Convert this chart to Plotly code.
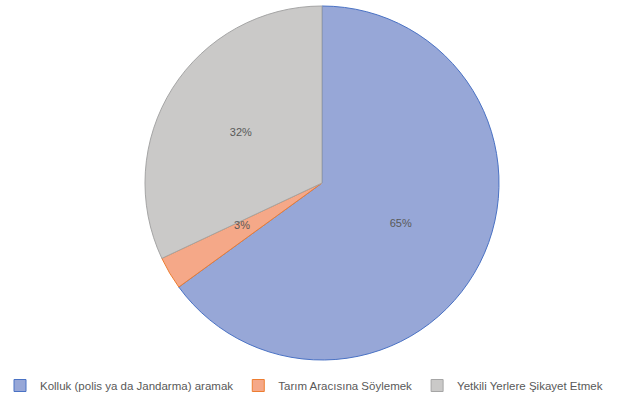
import plotly.graph_objects as go

categories = ["Kolluk (polis ya da Jandarma) aramak", "Tarım Aracısına Söylemek", "Yetkili Yerlere Şikayet Etmek"]
values = [65, 3, 32]
fill_colors = ["#97a7d7", "#f5a888", "#cac9c8"]
line_colors = ["#4a72c4", "#ed7d31", "#a5a5a5"]

W, H = 639, 400
cx, cy, R = 322, 183, 177  # pie centre/radius in pixels
r_small = 80

def dom(r):
    return dict(x=[(cx - r) / W, (cx + r) / W], y=[1 - (cy + r) / H, 1 - (cy - r) / H])

label_font = dict(family="Liberation Sans", size=11, color="#595959")

fig = go.Figure()
fig.add_trace(go.Pie(
    labels=categories,
    values=values,
    sort=False,
    direction="clockwise",
    rotation=0,
    marker=dict(colors=fill_colors, line=dict(color=line_colors, width=1)),
    texttemplate="%{value}%",
    textposition=["inside", "none", "inside"],
    insidetextorientation="horizontal",
    textfont=label_font,
    domain=dom(R),
    hoverinfo="label+percent",
))
# helper pie (invisible) that only places the small slice label
fig.add_trace(go.Pie(
    labels=categories,
    values=values,
    sort=False,
    direction="clockwise",
    rotation=0,
    marker=dict(colors=["rgba(0,0,0,0)"] * 3, line=dict(width=0)),
    texttemplate="%{value}%",
    textposition=["none", "outside", "none"],
    textfont=label_font,
    domain=dom(r_small),
    showlegend=False,
    hoverinfo="skip",
    automargin=False,
))

fig.update_layout(
    width=W, height=H,
    margin=dict(l=0, r=0, t=0, b=0),
    paper_bgcolor="white",
    plot_bgcolor="white",
    uniformtext=dict(minsize=11, mode="show"),
    legend=dict(
        orientation="h",
        x=0.0, y=0.0, xanchor="left", yanchor="bottom",
        font=dict(family="Liberation Sans", size=11.5, color="#595959"),
        itemwidth=30,
    ),
)

fig.write_html("out.html", config={"displayModeBar": False},
               post_script="document.body.style.margin='0';")
